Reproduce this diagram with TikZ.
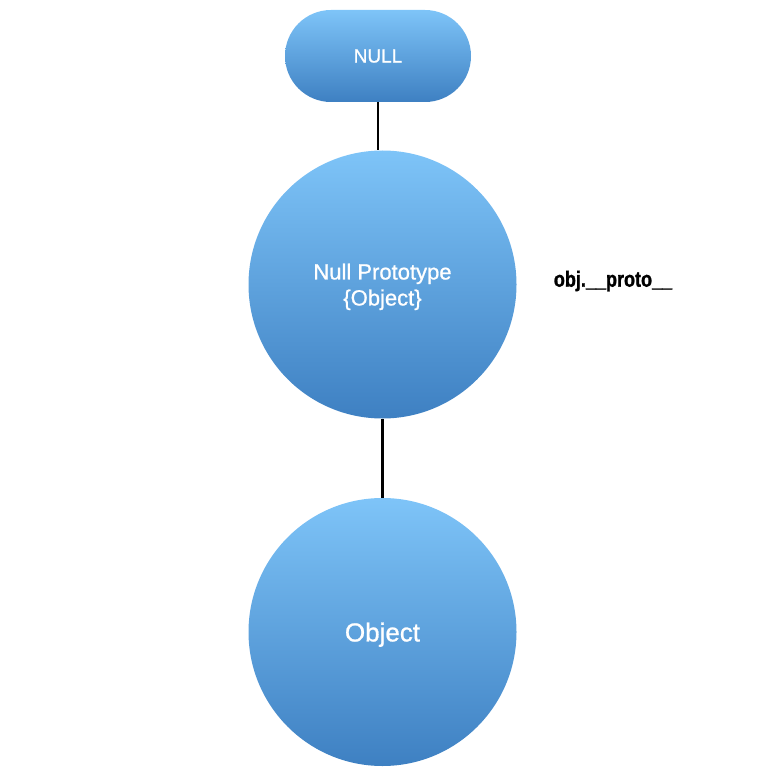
\documentclass[tikz,border=0pt]{standalone}
\usepackage{fontspec}
\setmainfont{Liberation Sans}
\newfontfamily\bubblefont[FakeBold=0.9]{Liberation Sans}
\newfontfamily\labelfont[FakeStretch=0.82, FakeBold=1.2]{Liberation Sans Bold}
\usetikzlibrary{shapes.misc}
\definecolor{lightblue}{HTML}{7EC4F8}
\definecolor{darkblue}{HTML}{3E80C2}
\tikzset{
    bubble/.style={draw=none, top color=lightblue, bottom color=darkblue,
        text=white, align=center, inner sep=0pt, text depth=0pt},
    link/.style={line width=2.5pt, black}
}
\begin{document}
\begin{tikzpicture}[x=1pt, y=-1pt]
    \useasboundingbox (0,0) rectangle (768,767);
    \def\circlediam{268pt}

    \node[bubble, rounded rectangle, minimum width=186pt, minimum height=92pt,
        font=\bubblefont\fontsize{19}{22}\selectfont] (null) at (378,56) {NULL}; % null
    
    \node[bubble, circle, minimum size=\circlediam,
        font=\bubblefont\fontsize{22}{26}\selectfont] (nullproto) at (382.5,284.5)
        {Null Prototype\\{\{Object\}}}; % null prototype
    
    \node[bubble, circle, minimum size=\circlediam,
        font=\bubblefont\fontsize{26}{30}\selectfont] (object) at (382.5,632) {Object}; % object
    
    \node[font=\labelfont\fontsize{22}{26}\selectfont]
        (protolabel) at (613,281) {obj.\_\_proto\_\_}; % label

    \draw[link] (null.south) -- (null.south |- nullproto.north);
    \draw[link] (nullproto.south) -- (object.north);
\end{tikzpicture}
\end{document}
